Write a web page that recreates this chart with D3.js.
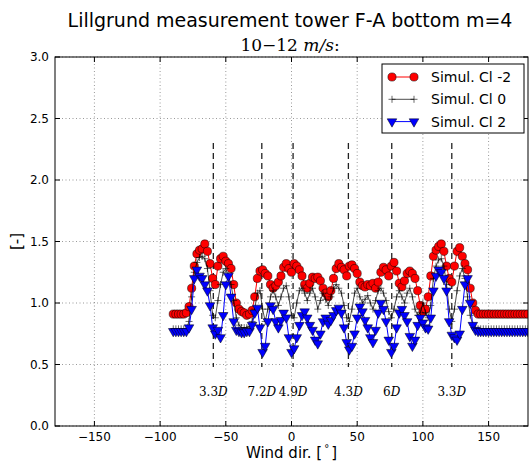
<!DOCTYPE html>
<html>
<head>
<meta charset="utf-8">
<script src="https://cdn.jsdelivr.net/npm/d3@7"></script>
<style>
body { margin: 0; background: #fff; }
text { font-family: "DejaVu Sans", sans-serif; }
.serif { font-family: "DejaVu Serif", serif; }
</style>
</head>
<body>
<script>
// wind directions, one value every 2 degrees
var dirs = d3.range(-90, 181, 2);

var simClMinus2 = [
  0.91,0.91,0.91,0.91,0.91,0.92,0.97,1.12,1.30,1.40,
  1.43,1.44,1.48,1.42,1.32,1.20,1.15,1.30,1.36,1.38,
  1.34,1.32,1.28,1.15,1.00,0.95,0.93,0.92,0.90,0.91,
  0.94,1.05,1.20,1.26,1.27,1.24,1.22,1.15,1.12,1.14,
  1.17,1.22,1.29,1.32,1.28,1.25,1.32,1.30,1.27,1.22,
  1.15,1.12,1.16,1.21,1.20,1.21,1.18,1.12,1.08,1.05,
  1.10,1.20,1.28,1.32,1.29,1.27,1.22,1.30,1.31,1.28,
  1.24,1.17,1.14,1.13,1.15,1.14,1.16,1.12,1.17,1.25,
  1.29,1.27,1.22,1.30,1.33,1.26,1.16,1.13,1.18,1.24,
  1.26,1.24,1.20,1.10,0.98,0.93,0.95,1.05,1.22,1.38,
  1.43,1.46,1.48,1.42,1.30,1.20,1.17,1.30,1.42,1.45,
  1.38,1.32,1.27,1.12,1.00,0.94,0.91,0.91,0.91,0.91,
  0.91,0.91,0.91,0.91,0.91,0.91,0.91,0.91,0.91,0.91,
  0.91,0.91,0.91,0.91,0.91,0.91
];

var simCl0 = [
  0.79,0.79,0.79,0.79,0.79,0.79,0.85,1.05,1.25,1.33,
  1.37,1.38,1.36,1.28,1.10,0.90,0.88,1.02,1.15,1.25,
  1.28,1.22,1.15,1.02,0.88,0.82,0.80,0.80,0.80,0.81,
  0.85,0.95,1.08,1.10,0.95,0.85,0.95,1.05,1.10,1.05,
  0.98,1.05,1.12,1.14,1.05,0.90,0.88,1.00,1.10,1.12,
  1.08,1.02,1.08,1.12,1.05,0.95,1.02,1.08,1.03,0.98,
  1.05,1.12,1.15,1.12,1.08,0.98,0.88,0.85,0.95,1.08,
  1.12,1.05,1.00,1.03,1.06,1.00,0.95,1.02,1.10,1.12,
  1.08,1.02,0.93,0.88,0.95,1.05,1.10,1.05,1.00,1.08,
  1.12,1.05,0.95,0.90,0.92,1.00,0.92,0.88,0.98,1.20,
  1.30,1.35,1.36,1.30,1.15,0.95,0.85,0.95,1.10,1.22,
  1.28,1.20,1.05,0.90,0.82,0.80,0.79,0.79,0.79,0.79,
  0.79,0.79,0.79,0.79,0.79,0.79,0.79,0.79,0.79,0.79,
  0.79,0.79,0.79,0.79,0.79,0.79
];

var simCl2 = [
  0.77,0.77,0.77,0.77,0.77,0.77,0.80,0.95,1.20,1.27,
  1.22,1.20,1.15,1.10,0.98,0.80,0.75,0.78,0.72,0.90,
  1.15,1.22,1.05,0.85,0.78,0.77,0.76,0.76,0.77,0.77,
  0.82,0.92,0.96,0.80,0.60,0.65,0.85,0.98,0.95,0.85,
  0.80,0.86,0.92,0.88,0.72,0.60,0.63,0.72,0.82,0.90,
  0.93,0.88,0.82,0.78,0.70,0.67,0.75,0.85,0.88,0.83,
  0.86,0.90,0.94,0.96,0.92,0.80,0.68,0.62,0.65,0.75,
  0.88,0.97,0.93,0.86,0.80,0.72,0.68,0.78,0.92,1.00,
  0.95,0.85,0.70,0.60,0.65,0.80,0.92,0.95,0.90,0.85,
  0.73,0.65,0.70,0.82,0.88,0.84,0.80,0.79,0.88,1.10,
  1.22,1.27,1.25,1.20,1.10,0.85,0.74,0.72,0.70,0.75,
  0.95,1.15,1.20,1.00,0.82,0.78,0.77,0.77,0.77,0.77,
  0.77,0.77,0.77,0.77,0.77,0.77,0.77,0.77,0.77,0.77,
  0.77,0.77,0.77,0.77,0.77,0.77
];

// wake directions of the neighbouring turbines
var wakeDirs = [-59.5, -22.6, 1.2, 43.3, 76.3, 122];
var wakeLabels = ["3.3", "7.2", "4.9", "4.3", "6", "3.3"];

var xTicks = [-150, -100, -50, 0, 50, 100, 150];
var yTicks = [0, 0.5, 1, 1.5, 2, 2.5, 3];

var width = 529, height = 463;
var pL = 55, pR = 528, pT = 57, pB = 426;

var svg = d3.select("body").append("svg")
    .attr("width", width)
    .attr("height", height);

var x = d3.scaleLinear().domain([-180, 180]).range([pL, pR]);
var y = d3.scaleLinear().domain([0, 3]).range([pB, pT]);

svg.append("clipPath").attr("id", "plot")
    .append("rect")
    .attr("x", pL).attr("y", pT)
    .attr("width", pR - pL).attr("height", pB - pT);

// grid
var grid = svg.append("g");
grid.selectAll(".gx").data(xTicks).enter().append("line")
    .attr("x1", function (d) { return x(d); })
    .attr("x2", function (d) { return x(d); })
    .attr("y1", pT).attr("y2", pB)
    .attr("stroke", "#555").attr("stroke-width", 0.6)
    .attr("stroke-dasharray", "1,2.5");
grid.selectAll(".gy").data(yTicks).enter().append("line")
    .attr("y1", function (d) { return y(d); })
    .attr("y2", function (d) { return y(d); })
    .attr("x1", pL).attr("x2", pR)
    .attr("stroke", "#555").attr("stroke-width", 0.6)
    .attr("stroke-dasharray", "1,2.5");

// wake lines + labels
svg.selectAll(".wake").data(wakeDirs).enter().append("line")
    .attr("x1", function (d) { return x(d); })
    .attr("x2", function (d) { return x(d); })
    .attr("y1", y(2.3)).attr("y2", y(0.48))
    .attr("stroke", "#222").attr("stroke-width", 1.3)
    .attr("stroke-dasharray", "6,4");

var wl = svg.selectAll(".wl").data(wakeDirs).enter().append("text")
    .attr("class", "serif")
    .attr("x", function (d) { return x(d); })
    .attr("y", y(0.24))
    .attr("text-anchor", "middle")
    .attr("font-size", 12);
wl.append("tspan").text(function (d, i) { return wakeLabels[i]; });
wl.append("tspan").attr("font-style", "italic").text("D");

var line = d3.line()
    .x(function (d) { return x(d[0]); })
    .y(function (d) { return y(d[1]); });

function pairs(vals) {
  return dirs.map(function (d, i) { return [d, vals[i]]; });
}

var plot = svg.append("g").attr("clip-path", "url(#plot)");

// Cl -2
var red = pairs(simClMinus2);
plot.append("path").datum(red).attr("d", line)
    .attr("fill", "none").attr("stroke", "#ff0000").attr("stroke-width", 1);
plot.selectAll(".pr").data(red).enter().append("circle")
    .attr("cx", function (d) { return x(d[0]); })
    .attr("cy", function (d) { return y(d[1]); })
    .attr("r", 4.1)
    .attr("fill", "#ff0000").attr("stroke", "#000").attr("stroke-width", 0.5);

// Cl 0
var blk = pairs(simCl0);
plot.append("path").datum(blk).attr("d", line)
    .attr("fill", "none").attr("stroke", "#000").attr("stroke-width", 0.7);
plot.selectAll(".pk").data(blk).enter().append("path")
    .attr("transform", function (d) { return "translate(" + x(d[0]) + "," + y(d[1]) + ")"; })
    .attr("d", "M-3.5,0H3.5M0,-3.5V3.5")
    .attr("stroke", "#000").attr("stroke-width", 0.6);

// Cl 2
var blue = pairs(simCl2);
var tri = d3.symbol().type(d3.symbolTriangle).size(40);
plot.append("path").datum(blue).attr("d", line)
    .attr("fill", "none").attr("stroke", "#0000ff").attr("stroke-width", 1);
plot.selectAll(".pb").data(blue).enter().append("path")
    .attr("transform", function (d) { return "translate(" + x(d[0]) + "," + y(d[1]) + ") rotate(180)"; })
    .attr("d", tri)
    .attr("fill", "#0000ff").attr("stroke", "#000").attr("stroke-width", 0.5);

// frame
svg.append("rect")
    .attr("x", pL).attr("y", pT)
    .attr("width", pR - pL).attr("height", pB - pT)
    .attr("fill", "none").attr("stroke", "#000").attr("stroke-width", 1);

// inward ticks on all sides
var ticks = svg.append("g").attr("stroke", "#000").attr("stroke-width", 1);
xTicks.forEach(function (t) {
  ticks.append("line").attr("x1", x(t)).attr("x2", x(t)).attr("y1", pB).attr("y2", pB - 5);
  ticks.append("line").attr("x1", x(t)).attr("x2", x(t)).attr("y1", pT).attr("y2", pT + 5);
});
yTicks.forEach(function (t) {
  ticks.append("line").attr("y1", y(t)).attr("y2", y(t)).attr("x1", pL).attr("x2", pL + 5);
  ticks.append("line").attr("y1", y(t)).attr("y2", y(t)).attr("x1", pR).attr("x2", pR - 5);
});

var fx = d3.format("d"), fy = d3.format(".1f");
svg.selectAll(".xl").data(xTicks).enter().append("text")
    .attr("x", function (d) { return x(d); })
    .attr("y", pB + 15)
    .attr("text-anchor", "middle").attr("font-size", 12)
    .text(function (d) { return fx(d); });
svg.selectAll(".yl").data(yTicks).enter().append("text")
    .attr("x", pL - 6)
    .attr("y", function (d) { return y(d) + 4; })
    .attr("text-anchor", "end").attr("font-size", 12)
    .text(function (d) { return fy(d); });

// axis titles
var xt = svg.append("text")
    .attr("x", (pL + pR) / 2).attr("y", 458)
    .attr("text-anchor", "middle").attr("font-size", 15);
xt.append("tspan").text("Wind dir. [");
xt.append("tspan").attr("font-size", 10).attr("dy", -6).text("\u2009\u00b0\u2009");
xt.append("tspan").attr("dy", 6).text("]");

svg.append("text")
    .attr("transform", "translate(22," + y(1.5) + ") rotate(-90)")
    .attr("text-anchor", "middle").attr("font-size", 15)
    .text("[-]");

// titles
svg.append("text")
    .attr("x", 290).attr("y", 27)
    .attr("text-anchor", "middle").attr("font-size", 19)
    .text("Lillgrund measurement tower F-A bottom m=4");
var sub = svg.append("text").attr("class", "serif")
    .attr("x", 290).attr("y", 51)
    .attr("text-anchor", "middle").attr("font-size", 17);
sub.append("tspan").text("10\u221212 ");
sub.append("tspan").attr("font-style", "italic").text("m/s");
sub.append("tspan").text(":");

// legend
var leg = svg.append("g");
leg.append("rect")
    .attr("x", 382).attr("y", 64).attr("width", 142).attr("height", 69)
    .attr("fill", "#fff").attr("stroke", "#000").attr("stroke-width", 1);
var items = [
  { name: "Simul. Cl -2", color: "#ff0000", mark: "circle" },
  { name: "Simul. Cl 0", color: "#000", mark: "plus" },
  { name: "Simul. Cl 2", color: "#0000ff", mark: "tri" }
];
items.forEach(function (it, i) {
  var yy = 77 + i * 22.3;
  leg.append("line").attr("x1", 392).attr("x2", 414).attr("y1", yy).attr("y2", yy)
      .attr("stroke", it.color).attr("stroke-width", it.mark === "plus" ? 0.7 : 1);
  [392, 414].forEach(function (xx) {
    if (it.mark === "circle") {
      leg.append("circle").attr("cx", xx).attr("cy", yy).attr("r", 4.1)
          .attr("fill", "#ff0000").attr("stroke", "#000").attr("stroke-width", 0.5);
    } else if (it.mark === "plus") {
      leg.append("path").attr("transform", "translate(" + xx + "," + yy + ")")
          .attr("d", "M-3.5,0H3.5M0,-3.5V3.5").attr("stroke", "#000").attr("stroke-width", 0.6);
    } else {
      leg.append("path").attr("transform", "translate(" + xx + "," + yy + ") rotate(180)")
          .attr("d", tri).attr("fill", "#0000ff").attr("stroke", "#000").attr("stroke-width", 0.5);
    }
  });
  leg.append("text").attr("x", 431).attr("y", yy + 5).attr("font-size", 14).text(it.name);
});
</script>
</body>
</html>
